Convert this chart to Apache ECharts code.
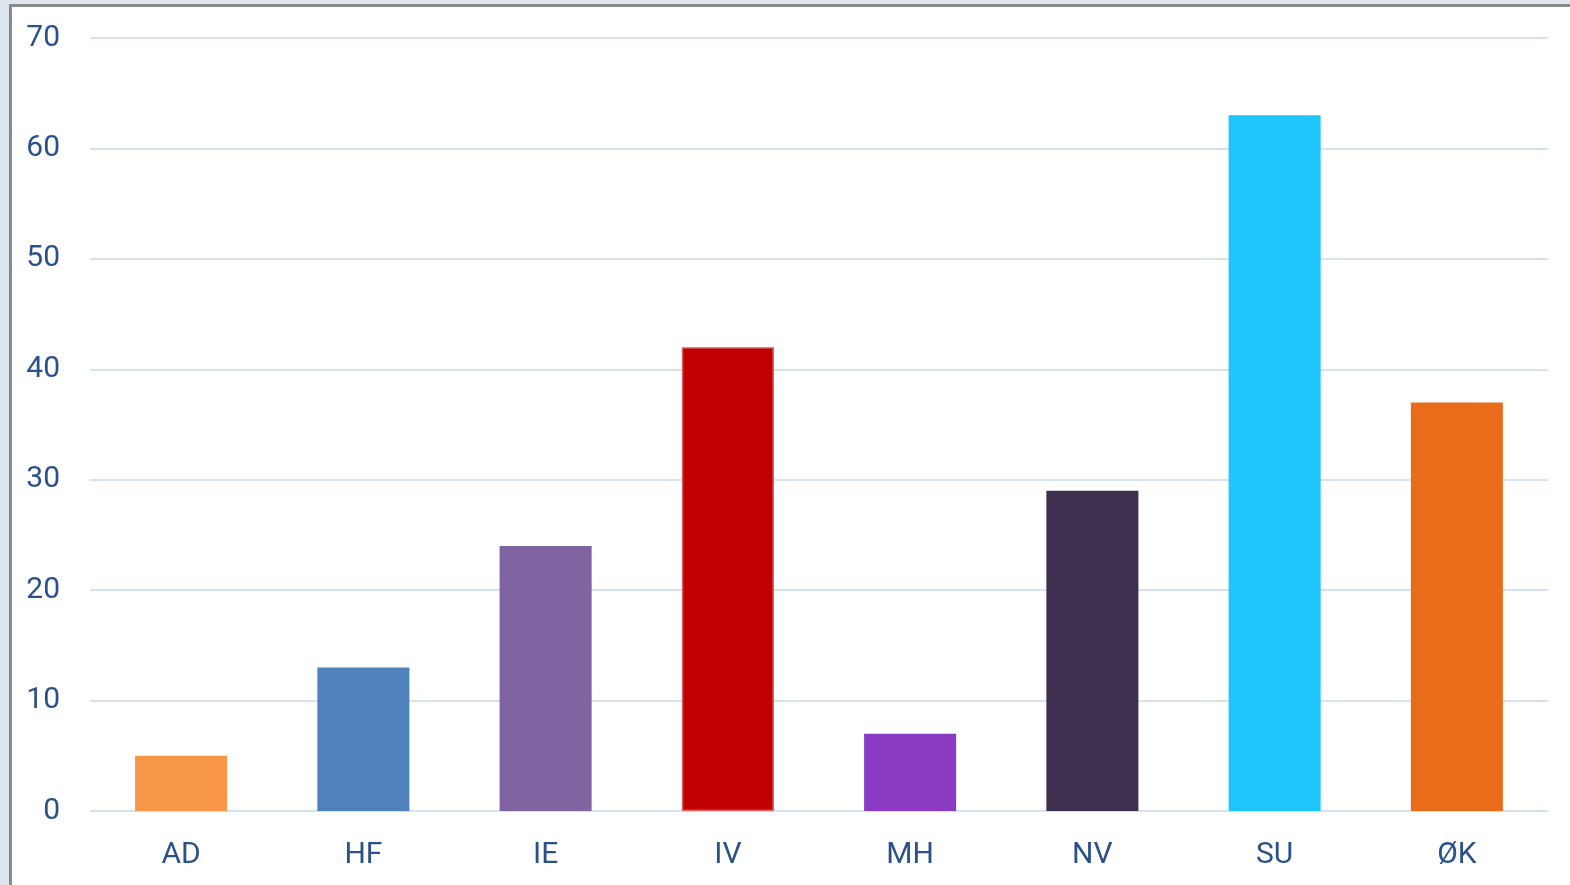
<!DOCTYPE html>
<html lang="en">
<head>
    <meta charset="UTF-8">
    <script type="text/javascript" src="https://cdn.jsdelivr.net/npm/echarts@6/dist/echarts.min.js"></script>
    <style>
        html, body { margin: 0; padding: 0; background: #dde6ed; overflow: hidden; }
        #frame {
            position: absolute; left: 9px; top: 4px; right: 0; bottom: 0;
            border-left: 3px solid #8a8a8a; border-top: 3px solid #8a8a8a;
            background: #ffffff;
        }
        #main { position: absolute; left: 0; top: 0; width: 1558px; height: 878px; }
    </style>
</head>
<body>
    <div id="frame"><div id="main"></div></div>
    <script type="text/javascript">
        // categories and values
        var categories = ['AD', 'HF', 'IE', 'IV', 'MH', 'NV', 'SU', 'ØK'];
        var values = [5, 13, 24, 42, 7, 29, 63, 37];
        var barColors = ['#f79646', '#4f81bd', '#8064a2', '#c00000', '#8b3ac4', '#3e2f4f', '#1ec6fd', '#e96c1a'];
        var yTicks = [0, 10, 20, 30, 40, 50, 60, 70];

        var textColor = '#2b5189';
        var fontName = 'Roboto';

        var myChart = echarts.init(document.getElementById('main'));
        var option = {
            animation: false,
            grid: { left: 78, right: 22, top: 31, bottom: 74, containLabel: false },
            xAxis: {
                type: 'category',
                data: categories,
                axisLine: { show: false },
                axisTick: { show: false },
                axisLabel: { color: textColor, fontSize: 30, fontFamily: fontName, margin: 29 }
            },
            yAxis: {
                type: 'value',
                min: yTicks[0],
                max: yTicks[yTicks.length - 1],
                interval: 10,
                axisLine: { show: false },
                axisTick: { show: false },
                axisLabel: { color: textColor, fontSize: 30, fontFamily: fontName, margin: 30 },
                splitLine: { lineStyle: { color: '#d6e2f2', width: 2 } }
            },
            series: [{
                type: 'bar',
                barWidth: '50.5%',
                data: values.map(function (v, i) {
                    var s = { color: barColors[i] };
                    if (categories[i] === 'IV') {
                        s.borderColor = '#d9595c';
                        s.borderWidth = 1.5;
                    }
                    return { value: v, itemStyle: s };
                })
            }]
        };
        myChart.setOption(option);
    </script>
</body>
</html>
